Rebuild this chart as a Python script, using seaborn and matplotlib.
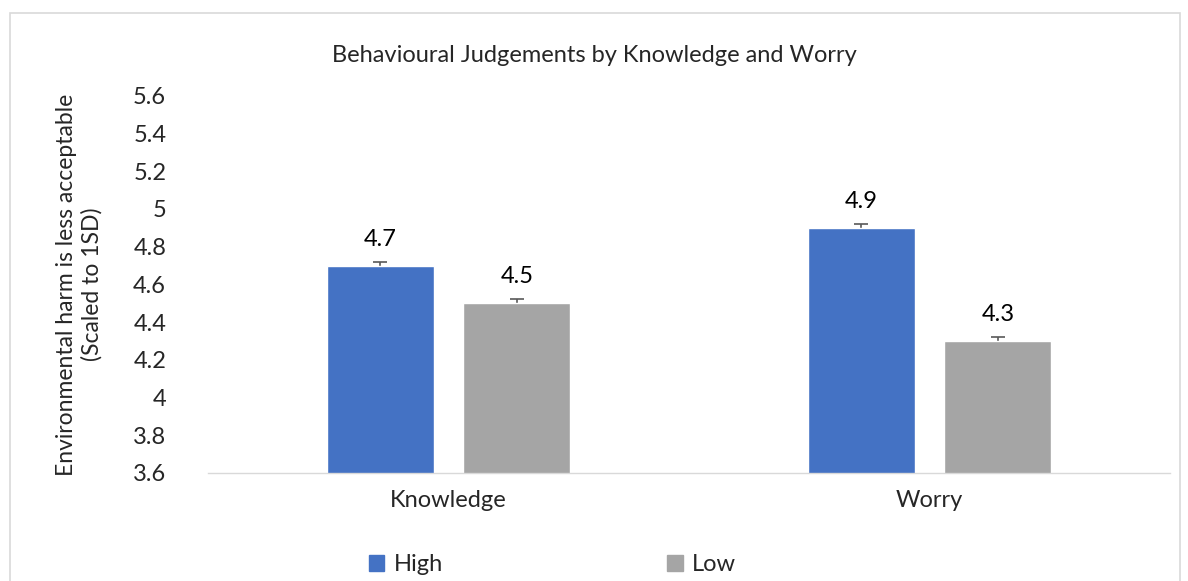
import matplotlib
matplotlib.use("Agg")
import matplotlib.pyplot as plt
import seaborn as sns
import pandas as pd
from matplotlib.patches import Rectangle

categories = ["Knowledge", "Worry"]
groups = ["High", "Low"]
high_vals = [4.7, 4.9]
low_vals = [4.5, 4.3]
high_err = [0.02, 0.02]
low_err = [0.02, 0.02]
yticks = [3.6, 3.8, 4.0, 4.2, 4.4, 4.6, 4.8, 5.0, 5.2, 5.4, 5.6]
ytick_labels = ["3.6", "3.8", "4", "4.2", "4.4", "4.6", "4.8", "5", "5.2", "5.4", "5.6"]

sns.set_theme(style="white")
plt.rcParams['font.family'] = ['Lato', 'DejaVu Sans']

df = pd.DataFrame({
    "Category": categories * 2,
    "Group": ["High"] * len(categories) + ["Low"] * len(categories),
    "Value": high_vals + low_vals,
    "Err": high_err + low_err,
})

fig = plt.figure(figsize=(11.88, 5.81), dpi=100)
ax = fig.add_axes([0.175, 0.186, 0.81, 0.649])

palette = {"High": "#4472C4", "Low": "#A5A5A5"}
sns.barplot(data=df, x="Category", y="Value", hue="Group", hue_order=groups,
            palette=palette, ax=ax, width=0.568, gap=0.216, saturation=1,
            legend=False, errorbar=None, zorder=2)

# error bars (drawn behind bars so only the upper half shows) and labels
for container, grp in zip(ax.containers, groups):
    sub = df[df["Group"] == grp].reset_index(drop=True)
    for bar, (_, row) in zip(container, sub.iterrows()):
        xc = bar.get_x() + bar.get_width() / 2
        ax.errorbar(xc, row["Value"], yerr=row["Err"], fmt="none",
                    ecolor="#595959", elinewidth=1.2, capsize=5, capthick=1.2,
                    zorder=1)
        ax.text(xc, row["Value"] + 0.085, f"{row['Value']:.1f}", ha="center",
                va="bottom", fontsize=17, color="#000000")

ax.set_ylim(3.6, 5.6)
ax.set_xlim(-0.5, 1.5)
ax.set_yticks(yticks)
ax.set_yticklabels(ytick_labels, fontsize=17)
ax.tick_params(axis="x", labelsize=17, pad=12, length=0)
ax.tick_params(axis="y", length=0, pad=30)
for lab in ax.get_yticklabels():
    lab.set_horizontalalignment("right")
ax.set_xlabel("")
ax.set_ylabel("Environmental harm is less acceptable\n(Scaled to 1SD)", fontsize=16.5, labelpad=22)
for s in ["top", "right", "left"]:
    ax.spines[s].set_visible(False)
ax.spines["bottom"].set_color("#D9D9D9")
ax.spines["bottom"].set_linewidth(1)
ax.spines["bottom"].set_zorder(3)

fig.text(0.5, 0.905, "Behavioural Judgements by Knowledge and Worry", ha="center",
         va="center", fontsize=17)

handles = [Rectangle((0, 0), 1, 1, color=palette[g]) for g in groups]
fig.legend(handles, groups, loc="center", bbox_to_anchor=(0.465, 0.028), ncol=2,
           frameon=False, fontsize=17, handlelength=0.65, handleheight=0.65,
           columnspacing=9.5, handletextpad=0.4)

border = Rectangle((0.008, -0.01), 0.985, 0.987, transform=fig.transFigure,
                   fill=False, edgecolor="#D9D9D9", linewidth=1.2)
fig.add_artist(border)

fig.savefig("out.png", dpi=100)
